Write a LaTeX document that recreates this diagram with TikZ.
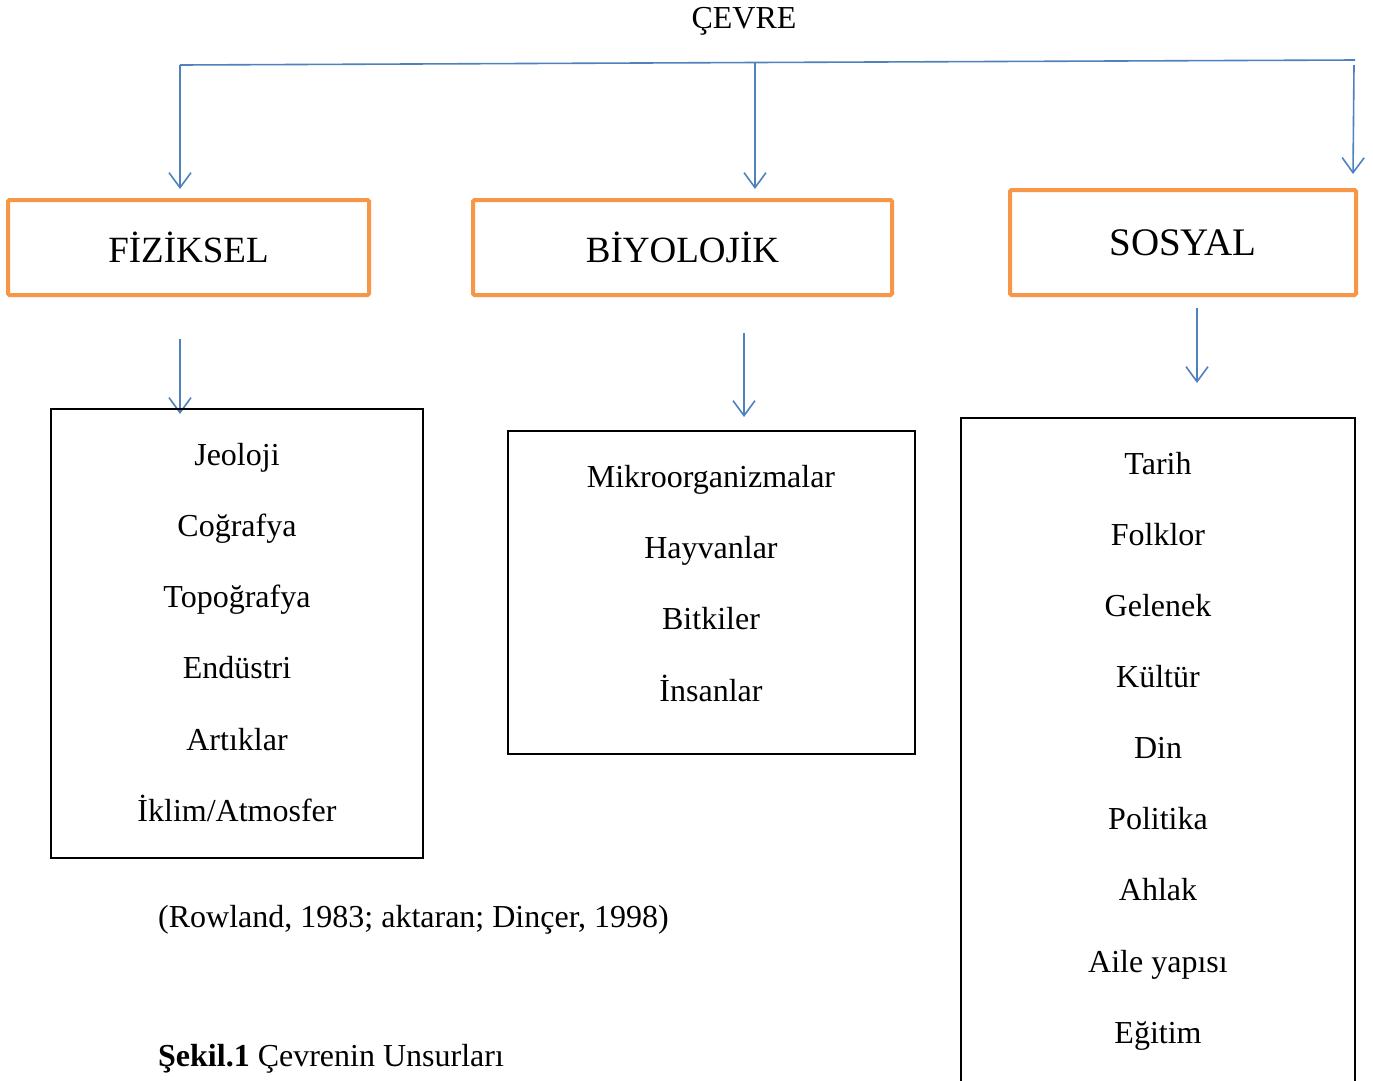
\documentclass[tikz,border=0pt]{standalone}
\usepackage{fontspec}
\setmainfont{Liberation Serif}
\usetikzlibrary{arrows.meta}
\definecolor{hdrorange}{HTML}{F79646}
\definecolor{arrblue}{HTML}{4F81BD}
\begin{document}
\begin{tikzpicture}[x=1pt,y=-1pt,
  hdr/.style={draw=hdrorange, line width=4pt, rounded corners=1.5pt, inner sep=0pt,
    font=\fontsize{37}{40}\selectfont},
  listbox/.style={draw=black, line width=1.2pt, inner sep=0pt},
  item/.style={font=\fontsize{32}{36}\selectfont, text height=22pt, text depth=7pt, inner sep=0pt},
  conn/.style={draw=arrblue, line width=1.6pt, -{Straight Barb[length=15pt,width=22pt,line width=1.6pt]}},
  plain/.style={draw=arrblue, line width=1.6pt}]
\useasboundingbox (0,0) rectangle (1373,1080);

% title
\node[item] (cevre) at (744,21) {ÇEVRE};

% top connector
\coordinate (tl) at (180,65);
\coordinate (tm) at (755,62.5);
\coordinate (tr) at (1355,60);
\coordinate (tra) at (1354,65);
\coordinate (a1) at (180,189);
\coordinate (a2) at (755,189);
\coordinate (a3) at (1353,174);
\draw[plain] (tl) -- (tm) -- (tr);
\draw[conn] (tl) -- (a1);
\draw[conn] (tm) -- (a2);
\draw[conn] (tra) -- (a3);

% header boxes
\node[hdr, minimum width=361pt, minimum height=95pt] (fiz) at (188.5,247.5) {FİZİKSEL};
\node[hdr, minimum width=419pt, minimum height=95pt] (biy) at (682.5,247.5) {BİYOLOJİK};
\node[hdr, minimum width=346pt, minimum height=105pt, font=\fontsize{39}{42}\selectfont] (sos) at (1183,242.5) {SOSYAL};

% lower arrows
\coordinate (f0) at (180,339);
\coordinate (f1) at (180,414);
\coordinate (b0) at (744,333);
\coordinate (b1) at (744,417);
\coordinate (s0) at (1197,308);
\coordinate (s1) at (1197,383);
\draw[conn] (f0) -- (f1);
\draw[conn] (b0) -- (b1);
\draw[conn] (s0) -- (s1);

% list boxes
\node[listbox, minimum width=372pt, minimum height=449pt] (fizl) at (237,633.5) {};
\node[listbox, minimum width=407pt, minimum height=323pt] (biyl) at (711.5,592.5) {};
\node[listbox, minimum width=394pt, minimum height=682pt] (sosl) at (1158,759) {};

% physical items
\node[item] (p1) at (237,458) {Jeoloji};
\node[item] (p2) at (237,529) {Coğrafya};
\node[item] (p3) at (237,600) {Topoğrafya};
\node[item] (p4) at (237,671) {Endüstri};
\node[item] (p5) at (237,743) {Artıklar};
\node[item] (p6) at (237,814) {İklim/Atmosfer};

% biological items
\node[item] (q1) at (711,480) {Mikroorganizmalar};
\node[item] (q2) at (711,551) {Hayvanlar};
\node[item] (q3) at (711,622) {Bitkiler};
\node[item] (q4) at (711,694) {İnsanlar};

% social items
\node[item] (r1) at (1158,467) {Tarih};
\node[item] (r2) at (1158,538) {Folklor};
\node[item] (r3) at (1158,609) {Gelenek};
\node[item] (r4) at (1158,680) {Kültür};
\node[item] (r5) at (1158,751) {Din};
\node[item] (r6) at (1158,822) {Politika};
\node[item] (r7) at (1158,893) {Ahlak};
\node[item] (r8) at (1158,965) {Aile yapısı};
\node[item] (r9) at (1158,1036) {Eğitim};

% citation and caption
\node[item, anchor=west] (cite) at (158,920) {(Rowland, 1983; aktaran; Dinçer, 1998)};
\node[item, anchor=west] (cap) at (158,1059) {\textbf{Şekil.1} Çevrenin Unsurları};
\end{tikzpicture}
\end{document}
